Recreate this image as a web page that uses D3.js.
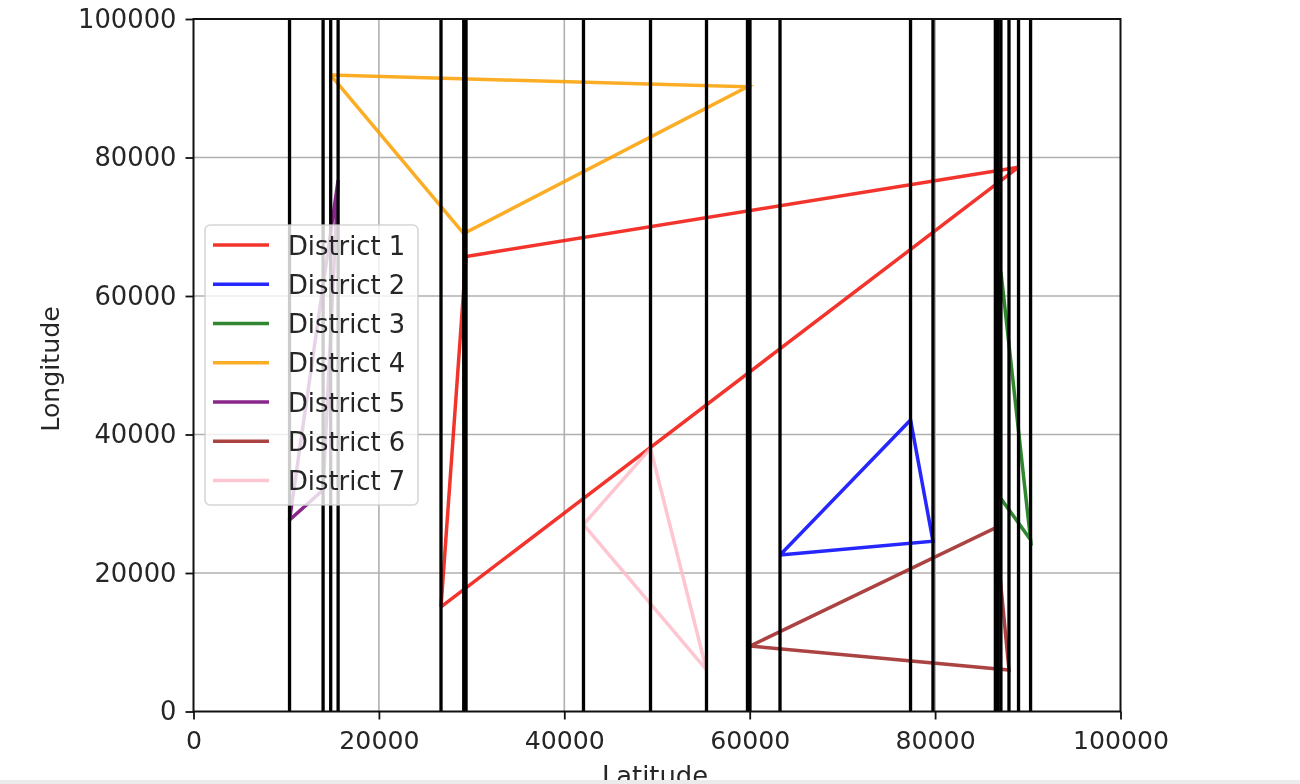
<!DOCTYPE html>
<html>
<head>
<meta charset="utf-8">
<script src="https://cdn.jsdelivr.net/npm/d3@7/dist/d3.min.js"></script>
<style>
html,body{margin:0;padding:0;background:#fff;overflow:hidden}
svg{display:block;filter:blur(0.65px)}
text{font-family:"DejaVu Sans",sans-serif;fill:#262626}
</style>
</head>
<body>
<svg id="c" width="1300" height="784"></svg>
<script>
const districtNames = ["District 1","District 2","District 3","District 4","District 5","District 6","District 7"];
const districtColors = ["#f01008","blue","#0c720c","#fb9f00","#740074","#9c2222","#fdbcc8"];
const lat1 = [26700,29400,89000], lon1 = [15100,65700,78600];
const lat2 = [63270,77350,79770], lon2 = [22600,42100,24600];
const lat3 = [86800,87100,90300], lon3 = [31300,63500,24800];
const lat4 = [14800,29150,59760], lon4 = [91900,69000,90200];
const lat5 = [10360,13980,15600], lon5 = [27650,32000,76700];
const lat6 = [60030,86500,87970], lon6 = [9450,26500,6000];
const lat7 = [42070,49300,55340], lon7 = [27000,38000,6000];
const latitudes = [lat1,lat2,lat3,lat4,lat5,lat6,lat7];
const longitudes = [lon1,lon2,lon3,lon4,lon5,lon6,lon7];
const tickValues = [0,20000,40000,60000,80000,100000];

const svg = d3.select("#c");
const L=193.5,R=1120.5,T=19,B=711.5,FS=25.8;
const x = d3.scaleLinear().domain([0,100000]).range([L,R]);
const y = d3.scaleLinear().domain([0,100000]).range([B,T]);

// grid
svg.append("g").selectAll("line").data(tickValues.slice(1,-1)).join("line")
  .attr("x1",d=>x(d)).attr("x2",d=>x(d)).attr("y1",T).attr("y2",B)
  .attr("stroke","#b0b0b0").attr("stroke-width",1.6);
svg.append("g").selectAll("line").data(tickValues.slice(1,-1)).join("line")
  .attr("y1",d=>y(d)).attr("y2",d=>y(d)).attr("x1",L).attr("x2",R)
  .attr("stroke","#b0b0b0").attr("stroke-width",1.6);

// triangles
const line = d3.line().x(d=>x(d[0])).y(d=>y(d[1]));
districtNames.forEach((n,i)=>{
  const pts = d3.zip(latitudes[i],longitudes[i]);
  svg.append("path").attr("d",line([...pts,pts[0]]))
    .attr("fill","none").attr("stroke",districtColors[i])
    .attr("stroke-width",3.5).attr("stroke-opacity",0.85).attr("stroke-linejoin","miter");
});

// vertical black lines at each vertex latitude
svg.append("g").selectAll("line").data(latitudes.flat()).join("line")
  .attr("x1",d=>x(d)).attr("x2",d=>x(d)).attr("y1",T).attr("y2",B)
  .attr("stroke","#000").attr("stroke-width",3.3);

// frame
svg.append("rect").attr("x",L).attr("y",T).attr("width",R-L).attr("height",B-T)
  .attr("fill","none").attr("stroke","#111").attr("stroke-width",2);

// axes
const fmt = d3.format("d");
const ax = svg.append("g").attr("transform",`translate(0,${B})`)
  .call(d3.axisBottom(x).tickValues(tickValues).tickFormat(fmt).tickSize(8).tickPadding(12));
const ay = svg.append("g").attr("transform",`translate(${L},0)`)
  .call(d3.axisLeft(y).tickValues(tickValues).tickFormat(fmt).tickSize(8).tickPadding(9));
[ax,ay].forEach(g=>{
  g.select(".domain").remove();
  g.selectAll("line").attr("stroke","#111").attr("stroke-width",1.8);
  g.selectAll("text").attr("font-size",FS).attr("font-family","DejaVu Sans").attr("fill","#262626");
});
ax.selectAll("text").attr("font-size",25.2);

svg.append("text").attr("x",655).attr("y",785).attr("text-anchor","middle")
  .attr("font-size",FS).text("Latitude");
svg.append("text").attr("transform",`translate(59,369) rotate(-90)`).attr("text-anchor","middle")
  .attr("font-size",25.2).text("Longitude");

// legend
const lg = svg.append("g");
lg.append("rect").attr("x",205).attr("y",225).attr("width",213).attr("height",280).attr("rx",5)
  .attr("fill","#fff").attr("fill-opacity",0.8).attr("stroke","#ccc").attr("stroke-opacity",0.8).attr("stroke-width",1.6);
const row = d3.scaleLinear().domain([0,6]).range([245,480.5]);
districtNames.forEach((n,i)=>{
  lg.append("line").attr("x1",213).attr("x2",269).attr("y1",row(i)).attr("y2",row(i))
    .attr("stroke",districtColors[i]).attr("stroke-width",3.5).attr("stroke-opacity",0.85);
  lg.append("text").attr("x",288).attr("y",row(i)+9.5).attr("font-size",FS).text(n);
});

// window band
svg.append("rect").attr("x",0).attr("y",780).attr("width",1300).attr("height",4).attr("fill","#ebebeb");
</script>
</body>
</html>
